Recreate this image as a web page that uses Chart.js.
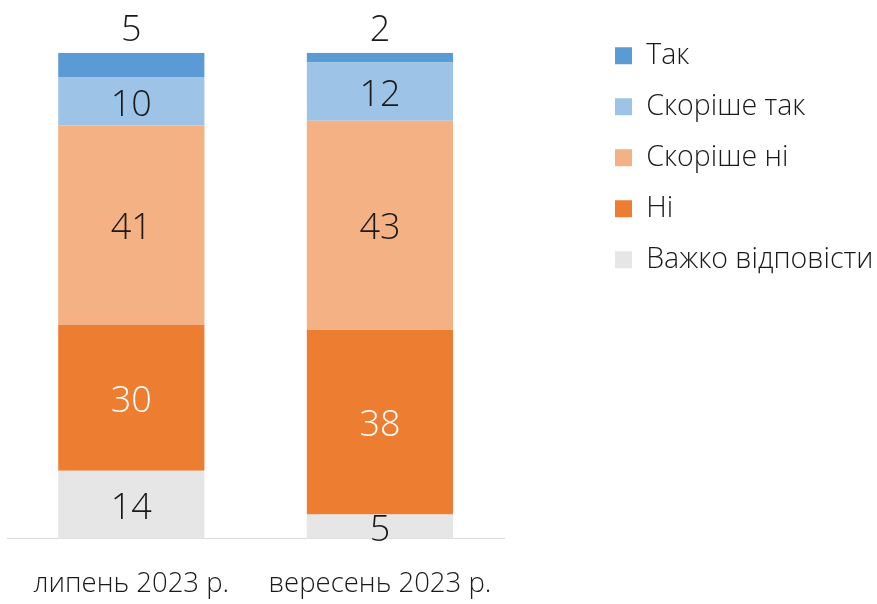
<!DOCTYPE html>
<html><head><meta charset="utf-8">
<script src="https://cdn.jsdelivr.net/npm/chart.js@4/dist/chart.umd.min.js"></script>
<style>html,body{margin:0;padding:0;background:#fff;} #wrap{width:877px;height:604px;position:relative}</style>
</head><body><div id="wrap"><canvas id="c" width="877" height="604"></canvas></div>
<script>
const categories = ['липень 2023 р.', 'вересень 2023 р.'];
const seriesNames = ['Важко відповісти', 'Ні', 'Скоріше ні', 'Скоріше так', 'Так'];
const hardToSay = [14, 5];
const no = [30, 38];
const ratherNo = [41, 43];
const ratherYes = [10, 12];
const yes = [5, 2];
const colors = ['#e6e6e6', '#ed7d31', '#f4b183', '#9dc3e6', '#5b9bd5'];
const labelColors = ['#1a1a1a', '#ffffff', '#1a1a1a', '#1a1a1a', '#1a1a1a'];
const seriesValues = [hardToSay, no, ratherNo, ratherYes, yes];

const FONT = '"Open Sans", "Noto Sans", sans-serif';

const valueLabels = {
  id: 'valueLabels',
  afterDatasetsDraw(chart) {
    const ctx = chart.ctx;
    ctx.save();
    ctx.font = '300 36px ' + FONT;
    ctx.textAlign = 'center';
    ctx.textBaseline = 'middle';
    const last = chart.data.datasets.length - 1;
    chart.data.datasets.forEach((ds, i) => {
      const meta = chart.getDatasetMeta(i);
      meta.data.forEach((bar, j) => {
        const v = ds.data[j];
        let y = (bar.y + bar.base) / 2 + 4;
        if (i === last) y = bar.y - 22;
        ctx.fillStyle = labelColors[i];
        ctx.fillText(String(v), bar.x, y);
      });
    });
    ctx.restore();
  }
};

const legendPos = {
  id: 'legendPos',
  afterLayout(chart) {
    const lg = chart.legend;
    const w = lg.width, h = lg.height;
    lg.left = 592.5; lg.right = lg.left + w;
    lg.top = 19; lg.bottom = lg.top + h;
  }
};

new Chart(document.getElementById('c'), {
  type: 'bar',
  data: {
    labels: categories,
    datasets: seriesNames.map((n, i) => ({
      label: n,
      data: seriesValues[i],
      backgroundColor: colors[i],
      borderWidth: 0,
      barPercentage: 0.588,
      categoryPercentage: 1
    }))
  },
  options: {
    responsive: false,
    animation: false,
    devicePixelRatio: 1,
    layout: { padding: { top: 52.7, left: 7, right: 82, bottom: 0 } },
    scales: {
      x: {
        stacked: true,
        grid: { display: false, drawTicks: false },
        border: { display: true, color: '#d9d9d9', width: 1 },
        ticks: { color: '#1a1a1a', font: { family: FONT, size: 27.5, weight: 300 }, padding: 29 },
        afterFit(scale) { scale.height = 65.3; }
      },
      y: {
        stacked: true, display: false, min: 0, max: 100
      }
    },
    plugins: {
      tooltip: { enabled: false },
      legend: {
        position: 'right',
        align: 'start',
        reverse: true,
        labels: {
          boxWidth: 17, boxHeight: 17, padding: 22.5, color: '#1a1a1a',
          font: { family: FONT, size: 28.5, weight: 300 }
        }
      }
    }
  },
  plugins: [valueLabels, legendPos]
});
</script></body></html>
